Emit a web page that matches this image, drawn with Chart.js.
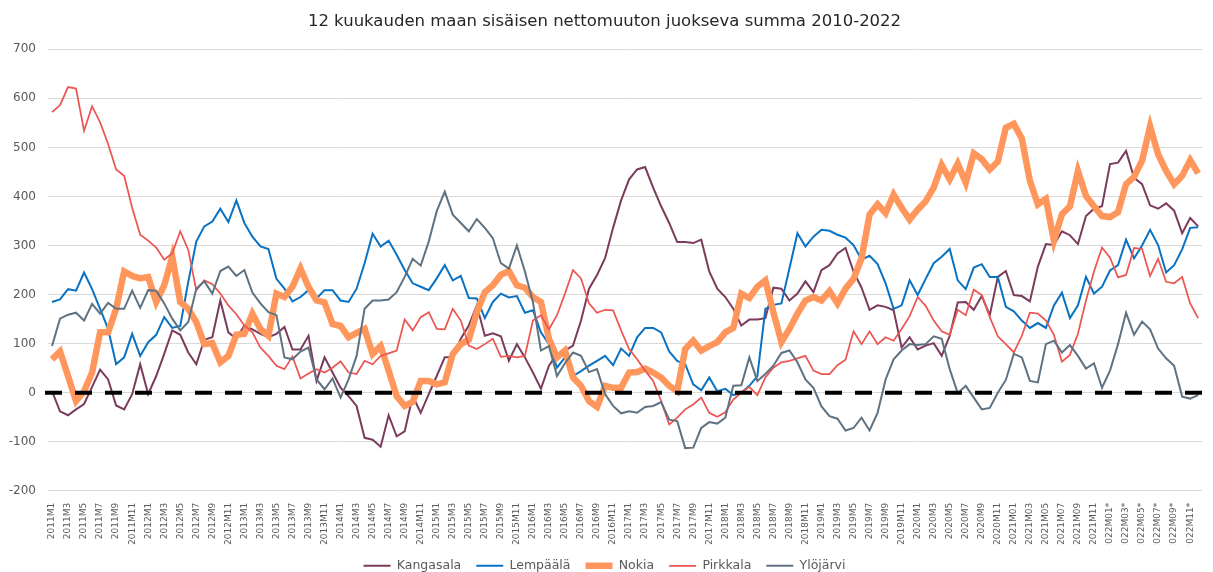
<!DOCTYPE html>
<html>
<head>
<meta charset="utf-8">
<script src="https://cdn.jsdelivr.net/npm/chart.js@4.4.1/dist/chart.umd.min.js"></script>
<style>
  html, body { margin: 0; padding: 0; background: #fff; }
  #wrap { width: 1213px; height: 572px; position: relative; }
</style>
</head>
<body>
<div id="wrap"><canvas id="myChart"></canvas></div>
<script>
// kuukaudet 2011M1 - 2022M12 (joka toinen näytetään akselilla)
var months = [
  '2011M1','2011M2','2011M3','2011M4','2011M5','2011M6','2011M7','2011M8','2011M9','2011M10','2011M11','2011M12',
  '2012M1','2012M2','2012M3','2012M4','2012M5','2012M6','2012M7','2012M8','2012M9','2012M10','2012M11','2012M12',
  '2013M1','2013M2','2013M3','2013M4','2013M5','2013M6','2013M7','2013M8','2013M9','2013M10','2013M11','2013M12',
  '2014M1','2014M2','2014M3','2014M4','2014M5','2014M6','2014M7','2014M8','2014M9','2014M10','2014M11','2014M12',
  '2015M1','2015M2','2015M3','2015M4','2015M5','2015M6','2015M7','2015M8','2015M9','2015M10','2015M11','2015M12',
  '2016M1','2016M2','2016M3','2016M4','2016M5','2016M6','2016M7','2016M8','2016M9','2016M10','2016M11','2016M12',
  '2017M1','2017M2','2017M3','2017M4','2017M5','2017M6','2017M7','2017M8','2017M9','2017M10','2017M11','2017M12',
  '2018M1','2018M2','2018M3','2018M4','2018M5','2018M6','2018M7','2018M8','2018M9','2018M10','2018M11','2018M12',
  '2019M1','2019M2','2019M3','2019M4','2019M5','2019M6','2019M7','2019M8','2019M9','2019M10','2019M11','2019M12',
  '2020M1','2020M2','2020M3','2020M4','2020M5','2020M6','2020M7','2020M8','2020M9','2020M10','2020M11','2020M12',
  '2021M01','2021M02','2021M03','2021M04','2021M05','2021M06','2021M07','2021M08','2021M09','2021M10','2021M11','2021M12',
  '2022M01*','2022M02*','2022M03*','2022M04*','2022M05*','2022M06*','2022M07*','2022M08*','2022M09*','2022M10*','2022M11*','2022M12*'
];

var kangasala = [
  3, -38, -46, -34, -23, 12, 47, 27, -26, -34, -3, 58, -3, 34, 79, 127, 118, 82, 58, 108, 113, 188, 123, 110,
  137, 129, 120, 113, 120, 134, 88, 88, 116, 24, 72, 41, 10, -7, -27, -92, -96, -110, -46, -89, -79, -7, -41,
  -3, 34, 72, 72, 110, 137, 178, 116, 121, 115, 65, 99, 72, 41, 8, 55, 79, 86, 96, 147, 212, 240, 274, 336, 392, 435,
  455, 460, 418, 380, 346, 307, 307, 305, 312, 247, 212, 195, 171, 137, 149, 149, 152, 214, 212, 188, 202, 227, 205,
  250, 260, 284, 295, 247, 214, 169, 178, 175, 168, 92, 113, 88, 96, 101, 75, 116, 184, 185, 169, 197, 158, 236,
  248, 199, 197, 186, 257, 303, 301, 329, 321, 303, 360, 375, 380, 466, 469, 493, 438, 425, 382, 375, 386, 371, 325, 356, 339
];
var lempaala = [
  185, 190, 211, 208, 245, 211, 171, 130, 58, 72, 120, 75, 103, 118, 154, 132, 136, 226, 308, 339, 349, 375, 348, 392,
  346, 318, 298, 293, 232, 212, 186, 195, 209, 192, 209, 209, 188, 185, 212, 264, 324, 298, 310, 281, 250, 223, 216,
  209, 233, 260, 229, 238, 193, 192, 152, 185, 202, 194, 197, 163, 168, 123, 99, 51, 72, 34, 44, 55, 65, 75, 56, 90, 75,
  113, 132, 132, 123, 84, 65, 58, 17, 5, 31, 3, 8, -5, 0, 14, 34, 171, 179, 182, 253, 325, 298, 318,
  332, 330, 322, 316, 301, 271, 279, 262, 223, 171, 178, 229, 199, 232, 264, 277, 293, 229, 211, 255, 262, 236, 236,
  175, 166, 147, 132, 142, 132, 178, 204, 152, 178, 236, 202, 216, 249, 260, 312, 274, 300, 332, 301, 245, 260, 292, 336, 337
];
var nokia = [
  68, 84, 34, -17, 3, 41, 123, 123, 171, 247, 238, 233, 236, 185, 219, 277, 185, 171, 144, 99, 101, 62, 75, 118,
  120, 161, 130, 116, 202, 195, 216, 253, 216, 188, 184, 140, 136, 113, 122, 130, 79, 95, 45, -7, -27, -19, 24,
  24, 17, 21, 79, 99, 108, 164, 205, 219, 240, 248, 219, 214, 195, 185, 110, 72, 86, 31, 14, -17, -29, 14, 10, 10, 41,
  42, 49, 41, 31, 14, 3, 89, 106, 86, 95, 103, 123, 132, 202, 193, 216, 229, 164, 103, 130, 161, 188, 195,
  188, 207, 182, 212, 232, 274, 363, 384, 366, 404, 377, 353, 373, 390, 418, 464, 435, 467, 428, 488, 476, 455, 471,
  540, 548, 518, 432, 384, 395, 310, 364, 380, 452, 401, 380, 360, 358, 368, 425, 440, 473, 543, 486, 452, 425, 442, 474, 447
];
var pirkkala = [
  572, 586, 623, 620, 534, 584, 551, 507, 455, 442, 377, 322, 310, 296, 271, 284, 329, 291, 209, 229, 221, 202, 178, 160,
  137, 123, 92, 75, 55, 48, 74, 29, 39, 48, 41, 51, 64, 41, 38, 65, 58, 75, 80, 86, 149, 127, 154,
  164, 130, 129, 171, 147, 96, 89, 99, 110, 73, 75, 72, 75, 147, 158, 129, 158, 202, 250, 233, 182, 163, 169, 168, 127, 89,
  68, 45, 24, -17, -65, -51, -34, -24, -10, -41, -49, -40, -14, 0, 12, -5, 31, 51, 62, 65, 70, 75, 45,
  38, 38, 56, 67, 125, 99, 125, 99, 113, 106, 130, 156, 195, 177, 147, 125, 118, 169, 158, 210, 199, 154, 115,
  99, 82, 116, 163, 161, 147, 118, 63, 77, 120, 188, 247, 296, 275, 235, 240, 295, 293, 238, 273, 226, 223, 236, 182, 152
];
var ylojarvi = [
  95, 151, 159, 163, 147, 181, 161, 183, 171, 171, 208, 173, 209, 208, 182, 151, 127, 144, 212, 227, 202, 248, 257, 238,
  250, 204, 182, 164, 158, 72, 68, 84, 92, 27, 7, 29, -10, 27, 75, 171, 188, 188, 190, 205, 236, 273, 259,
  308, 370, 410, 363, 346, 329, 354, 336, 315, 264, 253, 300, 247, 185, 86, 95, 34, 60, 82, 75, 42, 48, -3, -27, -42, -38,
  -41, -29, -27, -19, -55, -58, -113, -112, -72, -60, -63, -51, 14, 15, 72, 24, 38, 55, 81, 86, 62, 27, 10,
  -28, -48, -53, -77, -72, -51, -77, -41, 27, 68, 86, 99, 97, 99, 115, 110, 48, -1, 14, -10, -34, -31, 0,
  26, 79, 72, 24, 21, 99, 106, 82, 97, 75, 49, 60, 10, 45, 99, 163, 118, 145, 129, 90, 70, 55, -8, -12, -5
];

var fontFamily = "'DejaVu Sans', 'Open Sans', sans-serif";
var textColor = '#595959';

// musta katkoviiva nollatasolle
var zeroLine = {
  id: 'zeroLine',
  afterDatasetsDraw: function(chart) {
    var ctx = chart.ctx, area = chart.chartArea;
    var py = chart.scales.y.getPixelForValue(0);
    ctx.save();
    ctx.strokeStyle = '#000000';
    ctx.lineWidth = 4;
    ctx.setLineDash([17, 13]);
    ctx.beginPath();
    ctx.moveTo(area.left - 3, py);
    ctx.lineTo(chart.width, py);
    ctx.stroke();
    ctx.restore();
  }
};

function series(label, data, color, width, order) {
  return {
    label: label,
    data: data,
    borderColor: color,
    backgroundColor: color,
    borderWidth: width,
    pointRadius: 0,
    pointHoverRadius: 0,
    tension: 0,
    fill: false,
    order: order
  };
}

var ctx = document.getElementById('myChart').getContext('2d');
var myChart = new Chart(ctx, {
  type: 'line',
  data: {
    labels: months,
    datasets: [
      series('Kangasala', kangasala, '#7B3B5C', 2, 5),
      series('Lempäälä', lempaala, '#0A72C2', 2, 4),
      series('Nokia', nokia, '#FF975C', 6.5, 3),
      series('Pirkkala', pirkkala, '#EC5652', 1.75, 2),
      series('Ylöjärvi', ylojarvi, '#5E7282', 2, 1)
    ]
  },
  plugins: [zeroLine],
  options: {
    responsive: true,
    maintainAspectRatio: false,
    animation: false,
    layout: { padding: { left: 0, right: 4, top: 0, bottom: -10 } },
    plugins: {
      title: {
        display: true,
        text: '12 kuukauden maan sisäisen nettomuuton juokseva summa 2010-2022',
        color: '#262626',
        font: { family: fontFamily, size: 16.5, weight: 'normal' },
        padding: { top: 12, bottom: 17.5 }
      },
      legend: {
        position: 'bottom',
        labels: {
          color: textColor,
          font: { family: fontFamily, size: 12.5 },
          usePointStyle: true,
          pointStyle: 'line',
          pointStyleWidth: 27,
          padding: 15,
          sort: function(a, b) { return a.datasetIndex - b.datasetIndex; }
        }
      },
      tooltip: { enabled: false }
    },
    scales: {
      x: {
        offset: true,
        grid: { display: false },
        border: { display: false },
        ticks: {
          autoSkip: false,
          maxRotation: 90,
          minRotation: 90,
          padding: 4,
          color: textColor,
          font: { family: fontFamily, size: 9 },
          callback: function(value, index) {
            return index % 2 === 0 ? this.getLabelForValue(value) : '';
          }
        },
        afterFit: function(scale) { scale.height = 53.7; }
      },
      y: {
        min: -200,
        max: 700,
        grid: { color: '#D9D9D9', lineWidth: 1, drawTicks: false },
        border: { display: false },
        ticks: {
          stepSize: 100,
          padding: 12,
          color: textColor,
          font: { family: fontFamily, size: 12 }
        },
        afterFit: function(scale) { scale.width = 48; }
      }
    }
  }
});
</script>
</body>
</html>
